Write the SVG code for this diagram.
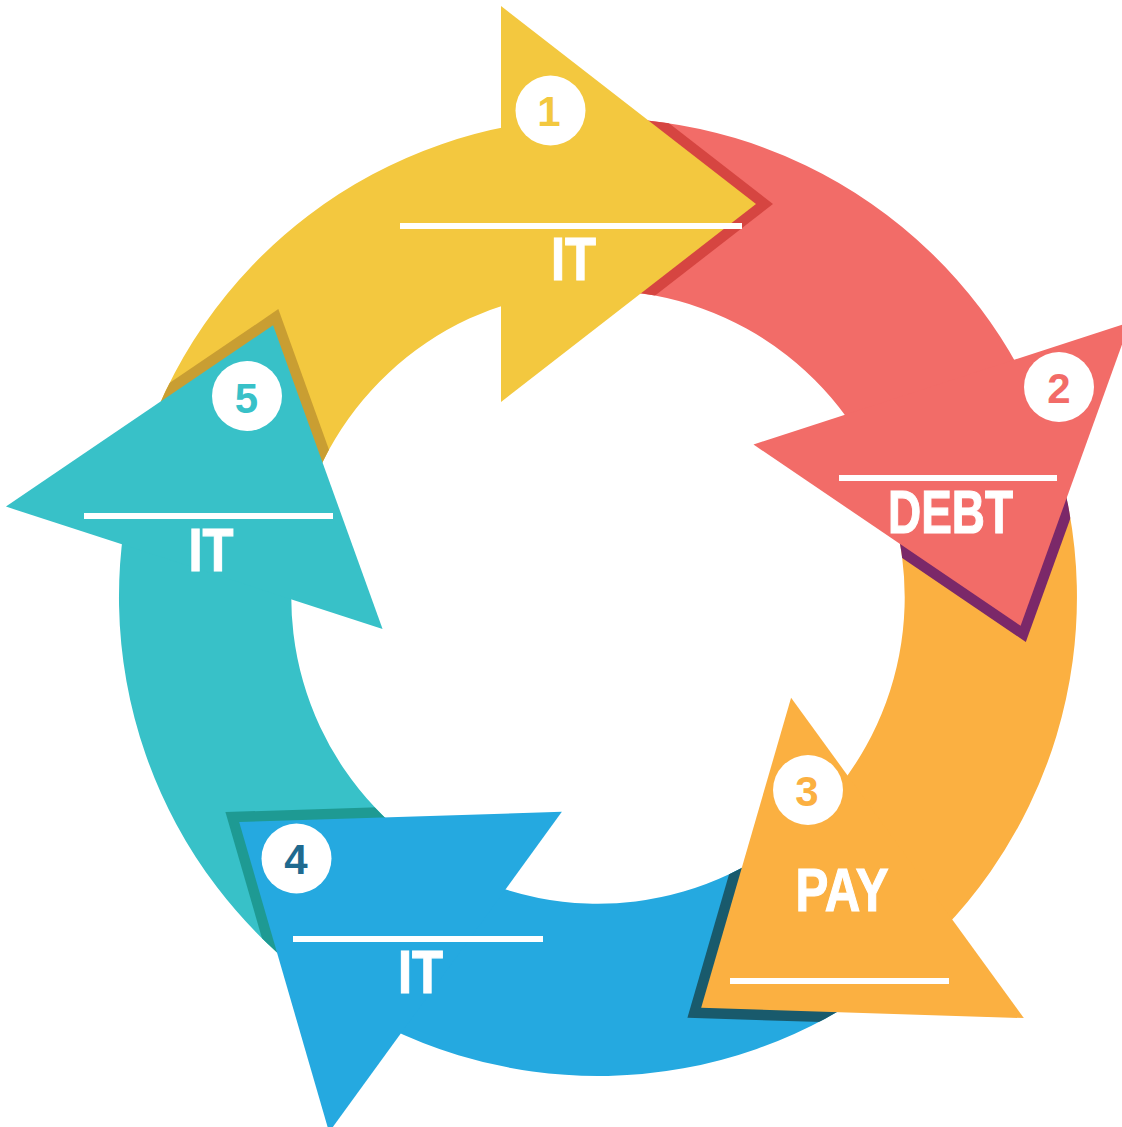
<svg xmlns="http://www.w3.org/2000/svg" width="1122" height="1127" viewBox="0 0 1122 1127">
<defs>
<style>
.num{font-family:"Liberation Sans","DejaVu Sans",sans-serif;font-weight:700;font-size:42px;text-anchor:middle}
.lbl{font-family:"Liberation Sans Narrow","Liberation Sans",sans-serif;font-weight:700;font-size:62px;fill:#fff;stroke:#fff;stroke-width:1.2px;text-anchor:middle}
.bar{fill:#fff}
.badge{fill:#fff}
</style>
<clipPath id="ring" clipPathUnits="userSpaceOnUse"><path clip-rule="evenodd" d="M119,597 a479,479 0 1,0 958,0 a479,479 0 1,0 -958,0 Z M291.3,597 a306.7,306.7 0 1,0 613.4,0 a306.7,306.7 0 1,0 -613.4,0 Z"/></clipPath>
<path id="body" d="M123.1,535.2 A479,479 0 0,1 515,125.2 L515,301.7 A306.7,306.7 0 0,0 291.4,589.9 Z"/>
<polygon id="head" points="501,6 756,204 501,402"/>
<polygon id="shadow" points="518,6 773,204 518,402"/>
</defs>

<g id="connectors">
<g id="bodies">
<use href="#body" fill="#F3C83F"/>
<use href="#body" fill="#F26C68" transform="rotate(72 598 597)"/>
<use href="#body" fill="#FBB041" transform="rotate(144 598 597)"/>
<use href="#body" fill="#25A9E0" transform="rotate(216 598 597)"/>
<use href="#body" fill="#38C1C8" transform="rotate(288 598 597)"/>
</g>
<g id="shadows" clip-path="url(#ring)">
<use href="#shadow" fill="#D64541"/>
<use href="#shadow" fill="#7B2869" transform="rotate(72 598 597)"/>
<use href="#shadow" fill="#195A6C" transform="rotate(144 598 597)"/>
<use href="#shadow" fill="#1E9A93" transform="rotate(216 598 597)"/>
<use href="#shadow" fill="#C99E32" transform="rotate(288 598 597)"/>
</g>
<g id="heads">
<use href="#head" fill="#F3C83F"/>
<use href="#head" fill="#F26C68" transform="rotate(72 598 597)"/>
<use href="#head" fill="#FBB041" transform="rotate(144 598 597)"/>
<use href="#head" fill="#25A9E0" transform="rotate(216 598 597)"/>
<use href="#head" fill="#38C1C8" transform="rotate(288 598 597)"/>
</g>
</g>

<g id="step-1">
<circle class="badge" cx="550.5" cy="110.5" r="35"/>
<text class="num" x="549" y="126" fill="#F3C83F">1</text>
<rect class="bar" x="400" y="223" width="342" height="6"/>
<text class="lbl" x="573.5" y="280" textLength="45" lengthAdjust="spacingAndGlyphs">IT</text>
</g>
<g id="step-2">
<circle class="badge" cx="1059" cy="387" r="35"/>
<text class="num" x="1059" y="403" fill="#F26C68">2</text>
<rect class="bar" x="839" y="475" width="218" height="6"/>
<text class="lbl" x="950.5" y="533" textLength="125" lengthAdjust="spacingAndGlyphs">DEBT</text>
</g>
<g id="step-3">
<circle class="badge" cx="808" cy="790" r="35"/>
<text class="num" x="807" y="806" fill="#FBB041">3</text>
<text class="lbl" x="842" y="911" textLength="93" lengthAdjust="spacingAndGlyphs">PAY</text>
<rect class="bar" x="730" y="978" width="219" height="6"/>
</g>
<g id="step-4">
<circle class="badge" cx="296.5" cy="858.5" r="35"/>
<text class="num" x="296" y="874" fill="#1F6A8F">4</text>
<rect class="bar" x="293" y="936" width="250" height="6"/>
<text class="lbl" x="420.5" y="993" textLength="45" lengthAdjust="spacingAndGlyphs">IT</text>
</g>
<g id="step-5">
<circle class="badge" cx="247" cy="396" r="35"/>
<text class="num" x="246.5" y="413" fill="#38C1C8">5</text>
<rect class="bar" x="84" y="513" width="249" height="6"/>
<text class="lbl" x="211" y="571" textLength="45" lengthAdjust="spacingAndGlyphs">IT</text>
</g>
</svg>
